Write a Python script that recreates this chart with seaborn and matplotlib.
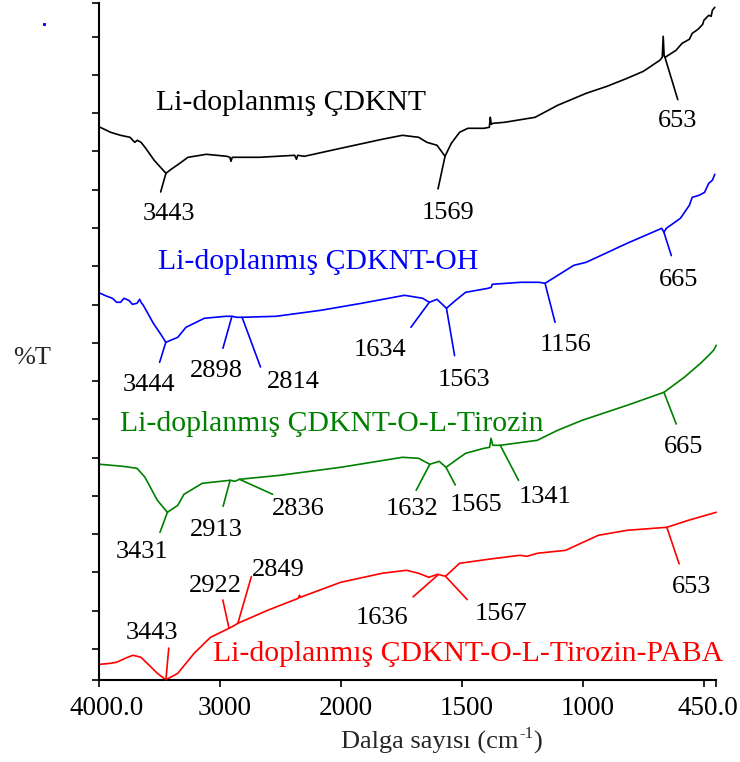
import numpy as np
import pandas as pd
import matplotlib
matplotlib.use("Agg")
import matplotlib.pyplot as plt
import matplotlib.transforms as mtransforms
from matplotlib.lines import Line2D
import seaborn as sns

# ---------------- data ----------------
samples = ["Li-doplanmış ÇDKNT", "Li-doplanmış ÇDKNT-OH",
           "Li-doplanmış ÇDKNT-O-L-Tirozin", "Li-doplanmış ÇDKNT-O-L-Tirozin-PABA"]
colors = ["#000000", "#0000FF", "#008000", "#FF0000"]

black_wn = [3986, 3900, 3818, 3740, 3700, 3680, 3649, 3616, 3540, 3443, 3400, 3329, 3261, 3109,
            2940, 2915, 2906, 2895, 2857, 2671, 2380, 2365, 2355, 2300, 2000, 1829, 1745,
            1678, 1644, 1602, 1569, 1543, 1509, 1475, 1408, 1386, 1382, 1378, 1371, 1323,
            1197, 1104, 986, 900, 817, 750, 682, 672, 668, 664, 660, 615, 590, 560, 548,
            530, 520, 505, 500, 480, 470, 465, 455]
black_T = [553, 548, 545, 543, 538, 540, 538, 533, 520, 507, 511, 517, 523, 526,
           524, 523, 519, 523, 523, 523, 525, 521, 525, 524, 532, 541, 545,
           543, 538, 535, 524, 537, 548, 552, 552, 553, 563, 556, 557, 558,
           563, 575, 587, 594, 602, 609, 620, 623, 644, 624, 623, 630, 637, 641, 647,
           650, 652, 656, 660, 665, 664, 670, 673]

blue_wn = [3986, 3930, 3885, 3850, 3818, 3790, 3750, 3720, 3682, 3660, 3649, 3630, 3616,
           3547, 3480, 3444, 3345, 3278, 3126, 2950, 2898, 2857, 2814, 2535, 2164, 1914,
           1736, 1661, 1634, 1602, 1563, 1525, 1484, 1391, 1378, 1374, 1256, 1180, 1156,
           1037, 986, 817, 674, 665, 655, 597, 560, 548, 520, 497, 480, 465, 455]
blue_T = [387, 384, 382, 378, 378, 382, 380, 376, 377, 381, 378, 375, 372,
          357, 345, 338, 343, 353, 362, 364, 364, 363, 363, 364, 370, 377,
          385, 382, 378, 381, 372, 380, 388, 392, 393, 396, 398, 398, 397,
          415, 418, 437, 452, 448, 452, 462, 475, 483, 485, 488, 497, 500, 506]

green_wn = [3986, 3800, 3682, 3616, 3514, 3431, 3345, 3294, 3143, 2913, 2873, 2836, 2502,
            2000, 1745, 1678, 1632, 1593, 1565, 1525, 1484, 1408, 1385, 1379, 1372, 1341,
            1188, 1104, 1003, 817, 665, 581, 514, 480, 460, 449]
green_T = [216, 214, 212, 203, 180, 168, 175, 186, 197, 200, 199, 201, 205,
           213, 223, 222, 216, 219, 213, 220, 227, 232, 233, 242, 235, 235,
           240, 250, 260, 275, 288, 303, 317, 325, 330, 335]

red_wn = [3986, 3900, 3852, 3760, 3716, 3680, 3649, 3581, 3514, 3443, 3345, 3210, 3075,
          2922, 2890, 2849, 2603, 2350, 2340, 2333, 2000, 1829, 1728, 1678, 1636, 1600,
          1567, 1509, 1391, 1260, 1230, 1188, 1071, 936, 817, 653, 564, 449]
red_T = [16, 17, 18, 23, 25, 24, 23, 15, 7, 0.5, 7, 27, 43,
         52, 54, 57, 70, 82, 85, 83, 98, 107, 110, 107, 103, 106,
         104, 117, 121, 125, 124, 127, 130, 145, 150, 153, 160, 168]

# peak labels: (text, wavenumber, %T) per series
black_peaks = [("3443", 3443, 507), ("1569", 1569, 524), ("653", 662, 624)]
blue_peaks = [("3444", 3444, 338), ("2898", 2898, 364), ("2814", 2814, 363),
              ("1634", 1634, 378), ("1563", 1563, 372), ("1156", 1156, 397),
              ("665", 665, 448)]
green_peaks = [("3431", 3431, 168), ("2913", 2913, 200), ("2836", 2836, 201),
               ("1632", 1632, 216), ("1565", 1565, 213), ("1341", 1341, 235),
               ("665", 665, 288)]
red_peaks = [("3443", 3443, 0.5), ("2922", 2922, 52), ("2849", 2849, 57),
             ("1636", 1600, 105), ("1567", 1567, 104), ("653", 653, 153)]

# layout of the peak labels: (line end dx, dy, text dx, dy) in pixels from the peak
black_lay = [(-5.3, -18.7, 2.9, -37.7), (-7, -32.6, 2.9, -53.3), (13.1, -43.3, 13.1, -61.6)]
blue_lay = [(-6.2, -20, -16.4, -40), (-9, -32, -15.6, -51.6), (18.4, -49.7, 51.2, -61.3),
            (-18.4, -25, -49.1, -45), (8.1, -47.3, 17.1, -68.3), (10, -39, 20.3, -59),
            (7.4, -23.3, 14.7, -45)]
green_lay = [(-7.4, -20, -25.8, -36.6), (-7, -26, -13.6, -46.7), (33.2, -15, 59, -26.7),
             (-13.6, -26, -17.6, -42), (9.3, -17.7, 29.8, -34.3), (18.3, -35, 45, -48.3),
             (12.3, -31.7, 19.7, -51.7)]
red_lay = [(2.8, 31.7, -14.3, 50), (-6.2, 28.3, -13.6, 45), (13.5, 46.7, 40.8, 56.7),
           (-24.5, -21.6, -55.2, -40), (21.7, -23.3, 55.3, -35), (12.3, -36.6, 24.5, -56.6)]

# series name positions (center x, baseline y) in pixels
name_pos = [(291, 110.5), (318, 268.5), (332, 431), (468, 661)]

x_ticks = [4000, 3000, 2000, 1500, 1000, 500, 450]
x_ticklabels = ["4000.0", "3000", "2000", "1500", "1000", "", "450.0"]

# ---------------- plotting ----------------
sns.set_style("ticks")
plt.rcParams["font.family"] = ["Liberation Serif", "DejaVu Serif"]

W, H = 740, 762
fig = plt.figure(figsize=(W / 100, H / 100), dpi=100)
ax = fig.add_axes([98.5 / W, 1 - 680.3 / H, 617.5 / W, 677 / H])

frames = []
for name, wn, tv in zip(samples, [black_wn, blue_wn, green_wn, red_wn],
                        [black_T, blue_T, green_T, red_T]):
    frames.append(pd.DataFrame({"wn": wn, "T": tv, "sample": name}))
df = pd.concat(frames, ignore_index=True)

sns.lineplot(data=df, x="wn", y="T", hue="sample", hue_order=samples, palette=colors,
             estimator=None, sort=False, legend=False, lw=1.2, ax=ax)
for ln in ax.lines:
    ln.set_clip_on(False)


def fwd(x):
    x = np.asarray(x, dtype=float)
    return np.where(x > 2000, 2000 + (x - 2000) / 2, x)


def inv(t):
    t = np.asarray(t, dtype=float)
    return np.where(t > 2000, 2000 + 2 * (t - 2000), t)


ax.set_xscale("function", functions=(fwd, inv))
ax.set_xlim(4000, 450)
ax.set_ylim(0, 677)
ax.set_xticks(x_ticks)
ax.set_xticklabels(x_ticklabels)
ax.xaxis.set_minor_locator(matplotlib.ticker.NullLocator())
yt = [0] + [31.3 + 38.27 * k for k in range(17)] + [677]
ax.set_yticks(yt)
ax.set_yticklabels([])
ax.set_xlabel("")
ax.set_ylabel("")
sns.despine(ax=ax)
for s in ["left", "bottom"]:
    ax.spines[s].set_linewidth(1.5)
    ax.spines[s].set_color("black")
ax.tick_params(axis="x", direction="out", length=5, width=1.2, labelsize=19.5, pad=6,
               color="black", labelcolor="black")
ax.tick_params(axis="y", direction="out", length=5, width=1.2, color="black")

shifts = [8, 5, 5, 5, 5, 0, -8]
for lab, dx in zip(ax.get_xticklabels(), shifts):
    lab.set_transform(lab.get_transform() +
                      mtransforms.ScaledTranslation(dx / 100, 0, fig.dpi_scale_trans))

# peak annotations
for peaks, lay, col in zip([black_peaks, blue_peaks, green_peaks, red_peaks],
                           [black_lay, blue_lay, green_lay, red_lay], colors):
    for (txt, wn, tv), (lx, ly, tx, ty) in zip(peaks, lay):
        ax.annotate("", xy=(wn, tv), xytext=(lx, ly), textcoords="offset pixels",
                    arrowprops=dict(arrowstyle="-", color=col, lw=1.2,
                                    shrinkA=0, shrinkB=0), annotation_clip=False)
        ax.annotate(txt, xy=(wn, tv), xytext=(tx, ty - 9), textcoords="offset pixels",
                    ha="center", va="baseline", fontsize=19, color="black",
                    annotation_clip=False)

# series names
for name, (cx, by), col in zip(samples, name_pos, colors):
    fig.text(cx / W, 1 - by / H, name, ha="center", va="baseline", fontsize=21.4, color=col)

fig.text(32 / W, 1 - 358 / H, "%T", ha="center", va="center", fontsize=19)

# x-axis title with superscript
t1 = fig.text(341 / W, 1 - 749 / H, "Dalga sayısı (cm", ha="left", va="baseline",
              fontsize=19)
t2 = fig.text(0, 0, "-1", fontsize=12)
t2.set_position((0, 0))
t2.remove()
t2 = ax.annotate("-1", xy=(1, 0), xycoords=t1, xytext=(0.3, 9), textcoords="offset points",
                 ha="left", va="bottom", fontsize=12, annotation_clip=False)
t3 = ax.annotate(")", xy=(1, 0), xycoords=(t2, t1), xytext=(0.3, 0),
                 textcoords="offset points", ha="left", va="bottom", fontsize=19,
                 annotation_clip=False)

fig.add_artist(Line2D([44 / W], [1 - 24 / H], marker="s", ms=1.2, color="#0000FF",
                      lw=0, transform=fig.transFigure))

fig.savefig("out.png", dpi=100)
